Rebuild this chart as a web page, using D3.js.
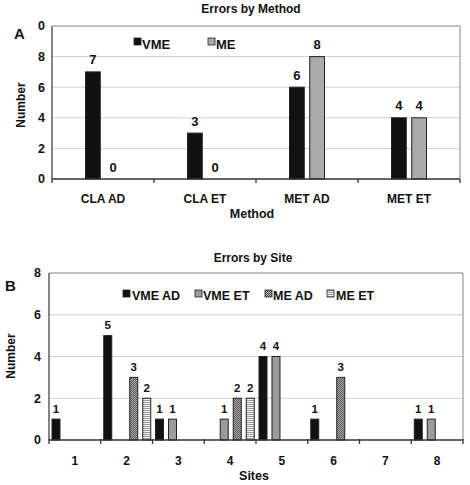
<!DOCTYPE html>
<html>
<head>
<meta charset="utf-8">
<script src="https://cdn.jsdelivr.net/npm/d3@7"></script>
<style>
  html, body { margin: 0; padding: 0; background: #fff; }
  svg { display: block; font-family: "Liberation Sans", Arial, sans-serif; font-weight: bold; }
</style>
</head>
<body>
<svg id="chart" width="470" height="485"></svg>
<script>
// ---------- Data ----------
const methodCategories = ["CLA AD", "CLA ET", "MET AD", "MET ET"];
const methodSeries = ["VME", "ME"];
const vmeByMethod = [7, 3, 6, 4];
const meByMethod = [0, 0, 8, 4];
const yTicksA = [0, 2, 4, 6, 8, 10];
const yTickLabelsA = ["0", "2", "4", "6", "8", "0"];

const sites = ["1", "2", "3", "4", "5", "6", "7", "8"];
const siteSeries = ["VME AD", "VME ET", "ME AD", "ME ET"];
const vmeAdBySite = [1, 5, 1, 0, 4, 1, 0, 1];
const vmeEtBySite = [0, 0, 1, 1, 4, 0, 0, 1];
const meAdBySite = [0, 3, 0, 2, 0, 3, 0, 0];
const meEtBySite = [0, 2, 0, 2, 0, 0, 0, 0];
const yTicksB = [0, 2, 4, 6, 8];

// ---------- Setup ----------
const svg = d3.select("#chart");
const defs = svg.append("defs");

const checker = defs.append("pattern").attr("id", "checker")
  .attr("patternUnits", "userSpaceOnUse").attr("width", 2).attr("height", 2);
checker.append("rect").attr("width", 2).attr("height", 2).attr("fill", "#c8c8c8");
checker.append("rect").attr("width", 1).attr("height", 1).attr("fill", "#3a3a3a");
checker.append("rect").attr("x", 1).attr("y", 1).attr("width", 1).attr("height", 1).attr("fill", "#3a3a3a");

const stripes = defs.append("pattern").attr("id", "stripes")
  .attr("patternUnits", "userSpaceOnUse").attr("width", 4).attr("height", 2);
stripes.append("rect").attr("width", 4).attr("height", 2).attr("fill", "#f2f2f2");
stripes.append("rect").attr("width", 4).attr("height", 1).attr("fill", "#9a9a9a");

const fills = {
  "VME": "#111", "ME": "#aaaaaa",
  "VME AD": "#111", "VME ET": "#9c9c9c", "ME AD": "url(#checker)", "ME ET": "url(#stripes)"
};

function drawFrame(x0, y, yTicks, yLabels, labelX) {
  const [xl, xr] = x0.range();
  const [yb, yt] = y.range();
  svg.append("g").selectAll("line").data(yTicks.filter(t => t > 0)).join("line")
    .attr("x1", xl).attr("x2", xr).attr("y1", d => y(d)).attr("y2", d => y(d))
    .attr("stroke", "#cfcfcf").attr("stroke-width", 1);
  svg.append("line").attr("x1", xl).attr("x2", xr).attr("y1", yt).attr("y2", yt)
    .attr("stroke", "#999").attr("stroke-width", 1.2);
  svg.append("line").attr("x1", xr).attr("x2", xr).attr("y1", yt).attr("y2", yb)
    .attr("stroke", "#999").attr("stroke-width", 1.2);
  svg.append("g").selectAll("text").data(yTicks).join("text")
    .attr("x", labelX).attr("y", d => y(d)).attr("dy", "0.35em")
    .attr("text-anchor", "end").attr("font-size", 12.5).attr("fill", "#111")
    .text((d, i) => yLabels[i]);
}

function drawAxes(x0, y, tickDown, tickUp) {
  const [xl, xr] = x0.range();
  const [yb, yt] = y.range();
  svg.append("line").attr("x1", xl).attr("x2", xl).attr("y1", yt).attr("y2", yb)
    .attr("stroke", "#444").attr("stroke-width", 1.3);
  svg.append("line").attr("x1", xl).attr("x2", xr).attr("y1", yb).attr("y2", yb)
    .attr("stroke", "#333").attr("stroke-width", 1.5);
  const bounds = x0.domain().map(d => x0(d)).concat([xr]);
  svg.append("g").selectAll("line").data(bounds).join("line")
    .attr("x1", d => d).attr("x2", d => d).attr("y1", yb - tickUp).attr("y2", yb + tickDown)
    .attr("stroke", "#333").attr("stroke-width", 1.3);
}

// ---------- Panel A ----------
const x0A = d3.scaleBand().domain(methodCategories).range([52, 460]).padding(0);
const bwA = x0A.bandwidth();
const x1A = d3.scaleBand().domain(methodSeries).range([bwA / 2 - 17.5, bwA / 2 + 17.5]).paddingInner(0.27).paddingOuter(0);
const yA = d3.scaleLinear().domain([0, 10]).range([179, 26]);

drawFrame(x0A, yA, yTicksA, yTickLabelsA, 45);

const dataA = methodCategories.map((c, i) => ({ cat: c, values: [
  { key: "VME", v: vmeByMethod[i] }, { key: "ME", v: meByMethod[i] }] }));

const gA = svg.append("g").selectAll("g").data(dataA).join("g")
  .attr("transform", d => `translate(${x0A(d.cat)},0)`);
gA.selectAll("rect").data(d => d.values.filter(v => v.v > 0)).join("rect")
  .attr("x", d => x1A(d.key)).attr("width", x1A.bandwidth())
  .attr("y", d => yA(d.v)).attr("height", d => yA(0) - yA(d.v))
  .attr("fill", d => fills[d.key]).attr("stroke", "#222").attr("stroke-width", 1);
gA.selectAll("text").data(d => d.values).join("text")
  .attr("x", d => x1A(d.key) + x1A.bandwidth() / 2).attr("y", d => yA(d.v) - 7.5)
  .attr("text-anchor", "middle").attr("font-size", 13).attr("fill", "#111")
  .text(d => d.v);

drawAxes(x0A, yA, 4, 0);

svg.append("g").selectAll("text").data(methodCategories).join("text")
  .attr("x", d => x0A(d) + bwA / 2).attr("y", 202.5)
  .attr("text-anchor", "middle").attr("font-size", 12).attr("fill", "#111").text(d => d);

svg.append("text").attr("x", 251).attr("y", 12.5).attr("text-anchor", "middle")
  .attr("font-size", 12).attr("fill", "#111").text("Errors by Method");
svg.append("text").attr("x", 252).attr("y", 218).attr("text-anchor", "middle")
  .attr("font-size", 12.5).attr("fill", "#111").text("Method");
svg.append("text").attr("transform", "translate(25,105) rotate(-90)").attr("text-anchor", "middle")
  .attr("font-size", 12).attr("fill", "#111").text("Number");
svg.append("text").attr("x", 14).attr("y", 38.5).attr("font-size", 15).attr("fill", "#111").text("A");

// Legend A
const legA = [{ key: "VME", x: 134, tx: 142 }, { key: "ME", x: 208, tx: 216 }];
const lgA = svg.append("g").selectAll("g").data(legA).join("g");
lgA.append("rect").attr("x", d => d.x).attr("y", 38).attr("width", 7).attr("height", 7)
  .attr("fill", d => fills[d.key]).attr("stroke", "#222").attr("stroke-width", 0.8);
lgA.append("text").attr("x", d => d.tx).attr("y", 48.5).attr("font-size", 13).attr("fill", "#111")
  .text(d => d.key);

// ---------- Panel B ----------
const x0B = d3.scaleBand().domain(sites).range([49, 463]).padding(0);
const x1B = d3.scaleBand().domain(siteSeries).range([3, 50]).paddingInner(0.385).paddingOuter(0);
const yB = d3.scaleLinear().domain([0, 8]).range([440, 273]);

drawFrame(x0B, yB, yTicksB, yTicksB.map(String), 41);

const dataB = sites.map((s, i) => ({ site: s, values: [
  { key: "VME AD", v: vmeAdBySite[i] }, { key: "VME ET", v: vmeEtBySite[i] },
  { key: "ME AD", v: meAdBySite[i] }, { key: "ME ET", v: meEtBySite[i] }] }));

const gB = svg.append("g").selectAll("g").data(dataB).join("g")
  .attr("transform", d => `translate(${x0B(d.site)},0)`);
gB.selectAll("rect").data(d => d.values.filter(v => v.v > 0)).join("rect")
  .attr("x", d => x1B(d.key)).attr("width", x1B.bandwidth())
  .attr("y", d => yB(d.v)).attr("height", d => yB(0) - yB(d.v))
  .attr("fill", d => fills[d.key]).attr("stroke", "#222").attr("stroke-width", 1);
gB.selectAll("text").data(d => d.values.filter(v => v.v > 0)).join("text")
  .attr("x", d => x1B(d.key) + x1B.bandwidth() / 2).attr("y", d => yB(d.v) - 6.5)
  .attr("text-anchor", "middle").attr("font-size", 11.5).attr("fill", "#111")
  .text(d => d.v);

drawAxes(x0B, yB, 4, 1);

svg.append("g").selectAll("text").data(sites).join("text")
  .attr("x", d => x0B(d) + x0B.bandwidth() / 2).attr("y", 464.5)
  .attr("text-anchor", "middle").attr("font-size", 12).attr("fill", "#111").text(d => d);

svg.append("text").attr("x", 253).attr("y", 262).attr("text-anchor", "middle")
  .attr("font-size", 12).attr("fill", "#111").text("Errors by Site");
svg.append("text").attr("x", 254).attr("y", 480).attr("text-anchor", "middle")
  .attr("font-size", 12.5).attr("fill", "#111").text("Sites");
svg.append("text").attr("transform", "translate(15,356) rotate(-90)").attr("text-anchor", "middle")
  .attr("font-size", 12).attr("fill", "#111").text("Number");
svg.append("text").attr("x", 5).attr("y", 290.5).attr("font-size", 15).attr("fill", "#111").text("B");

// Legend B
const legB = [
  { key: "VME AD", x: 123, tx: 132 }, { key: "VME ET", x: 195, tx: 203 },
  { key: "ME AD", x: 265, tx: 273 }, { key: "ME ET", x: 327, tx: 336 }];
const lgB = svg.append("g").selectAll("g").data(legB).join("g");
lgB.append("rect").attr("x", d => d.x).attr("y", 290).attr("width", 7).attr("height", 7)
  .attr("fill", d => fills[d.key]).attr("stroke", "#222").attr("stroke-width", 0.8);
lgB.append("text").attr("x", d => d.tx).attr("y", 300).attr("font-size", 12.5).attr("fill", "#111")
  .text(d => d.key);
</script>
</body>
</html>
